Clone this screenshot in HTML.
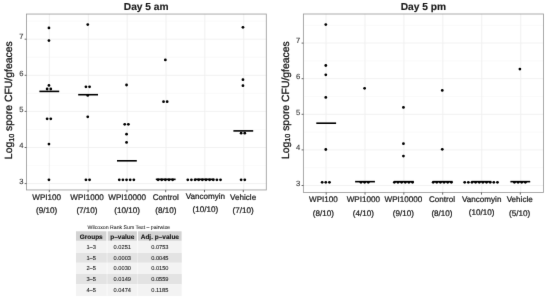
<!DOCTYPE html><html><head><meta charset="utf-8"><title>Day 5</title><style>html,body{margin:0;padding:0;background:#fff;}svg{display:block;}text{font-family:"Liberation Sans", sans-serif;text-rendering:geometricPrecision;}</style></head><body>
<svg width="550" height="302" viewBox="0 0 550 302">
<defs><filter id="soft" x="0" y="0" width="550" height="302" filterUnits="userSpaceOnUse" color-interpolation-filters="sRGB"><feConvolveMatrix order="3" kernelMatrix="0 1 0 1 12 1 0 1 0" divisor="16" edgeMode="duplicate" preserveAlpha="true"/></filter></defs><g filter="url(#soft)">
<rect width="550" height="302" fill="#fff"/>
<line x1="26.45" x2="266.3" y1="165.55" y2="165.55" stroke="#f6f6f6" stroke-width="0.6"/><line x1="26.45" x2="266.3" y1="129.45" y2="129.45" stroke="#f6f6f6" stroke-width="0.6"/><line x1="26.45" x2="266.3" y1="93.35" y2="93.35" stroke="#f6f6f6" stroke-width="0.6"/><line x1="26.45" x2="266.3" y1="57.25" y2="57.25" stroke="#f6f6f6" stroke-width="0.6"/><line x1="26.45" x2="266.3" y1="21.15" y2="21.15" stroke="#f6f6f6" stroke-width="0.6"/><line x1="26.45" x2="266.3" y1="183.60" y2="183.60" stroke="#f0f0f0" stroke-width="0.9"/><line x1="26.45" x2="266.3" y1="147.50" y2="147.50" stroke="#f0f0f0" stroke-width="0.9"/><line x1="26.45" x2="266.3" y1="111.40" y2="111.40" stroke="#f0f0f0" stroke-width="0.9"/><line x1="26.45" x2="266.3" y1="75.30" y2="75.30" stroke="#f0f0f0" stroke-width="0.9"/><line x1="26.45" x2="266.3" y1="39.20" y2="39.20" stroke="#f0f0f0" stroke-width="0.9"/><line x1="49.40" x2="49.40" y1="14.05" y2="189.95" stroke="#eeeeee" stroke-width="0.9"/><line x1="88.27" x2="88.27" y1="14.05" y2="189.95" stroke="#eeeeee" stroke-width="0.9"/><line x1="127.14" x2="127.14" y1="14.05" y2="189.95" stroke="#eeeeee" stroke-width="0.9"/><line x1="166.01" x2="166.01" y1="14.05" y2="189.95" stroke="#eeeeee" stroke-width="0.9"/><line x1="204.88" x2="204.88" y1="14.05" y2="189.95" stroke="#eeeeee" stroke-width="0.9"/><line x1="243.75" x2="243.75" y1="14.05" y2="189.95" stroke="#eeeeee" stroke-width="0.9"/>
<rect x="26.45" y="14.05" width="239.85" height="175.90" fill="none" stroke="#9c9c9c" stroke-width="0.85"/>
<line x1="49.30" x2="49.30" y1="189.95" y2="192.15" stroke="#444" stroke-width="0.8"/><line x1="88.10" x2="88.10" y1="189.95" y2="192.15" stroke="#444" stroke-width="0.8"/><line x1="126.90" x2="126.90" y1="189.95" y2="192.15" stroke="#444" stroke-width="0.8"/><line x1="165.70" x2="165.70" y1="189.95" y2="192.15" stroke="#444" stroke-width="0.8"/><line x1="204.50" x2="204.50" y1="189.95" y2="192.15" stroke="#444" stroke-width="0.8"/><line x1="243.30" x2="243.30" y1="189.95" y2="192.15" stroke="#444" stroke-width="0.8"/><line x1="24.65" x2="26.45" y1="183.60" y2="183.60" stroke="#444" stroke-width="0.8"/><text x="23.4" y="183.80" font-size="7.6" fill="#383838" stroke="#383838" stroke-width="0.12" text-anchor="end">3</text><line x1="24.65" x2="26.45" y1="147.50" y2="147.50" stroke="#444" stroke-width="0.8"/><text x="23.4" y="147.70" font-size="7.6" fill="#383838" stroke="#383838" stroke-width="0.12" text-anchor="end">4</text><line x1="24.65" x2="26.45" y1="111.40" y2="111.40" stroke="#444" stroke-width="0.8"/><text x="23.4" y="111.60" font-size="7.6" fill="#383838" stroke="#383838" stroke-width="0.12" text-anchor="end">5</text><line x1="24.65" x2="26.45" y1="75.30" y2="75.30" stroke="#444" stroke-width="0.8"/><text x="23.4" y="75.50" font-size="7.6" fill="#383838" stroke="#383838" stroke-width="0.12" text-anchor="end">6</text><line x1="24.65" x2="26.45" y1="39.20" y2="39.20" stroke="#444" stroke-width="0.8"/><text x="23.4" y="39.40" font-size="7.6" fill="#383838" stroke="#383838" stroke-width="0.12" text-anchor="end">7</text>
<text x="146.2" y="9.5" font-size="10.2" font-weight="bold" fill="#1a1a1a" stroke="#1a1a1a" stroke-width="0.15" text-anchor="middle">Day 5 am</text>
<text transform="translate(12.2,100.25) rotate(-90)" font-size="10.4" fill="#111" stroke="#111" stroke-width="0.28" text-anchor="middle">Log<tspan font-size="7.2" dy="1.5">10</tspan><tspan dy="-1.5"> spore CFU/gfeaces</tspan></text>
<text x="46.7" y="199.50" font-size="8.1" fill="#1c1c1c" stroke="#1c1c1c" stroke-width="0.24" text-anchor="middle">WPI100</text>
<text x="46.7" y="212.50" font-size="8.1" fill="#1c1c1c" stroke="#1c1c1c" stroke-width="0.24" text-anchor="middle">(9/10)</text>
<text x="87.0" y="199.50" font-size="8.1" fill="#1c1c1c" stroke="#1c1c1c" stroke-width="0.24" text-anchor="middle">WPI1000</text>
<text x="87.0" y="212.50" font-size="8.1" fill="#1c1c1c" stroke="#1c1c1c" stroke-width="0.24" text-anchor="middle">(7/10)</text>
<text x="127.2" y="199.50" font-size="8.1" fill="#1c1c1c" stroke="#1c1c1c" stroke-width="0.24" text-anchor="middle">WPI10000</text>
<text x="127.2" y="212.50" font-size="8.1" fill="#1c1c1c" stroke="#1c1c1c" stroke-width="0.24" text-anchor="middle">(10/10)</text>
<text x="165.8" y="199.50" font-size="8.1" fill="#1c1c1c" stroke="#1c1c1c" stroke-width="0.24" text-anchor="middle">Control</text>
<text x="165.8" y="212.50" font-size="8.1" fill="#1c1c1c" stroke="#1c1c1c" stroke-width="0.24" text-anchor="middle">(8/10)</text>
<text x="205.4" y="198.70" font-size="8.1" fill="#1c1c1c" stroke="#1c1c1c" stroke-width="0.24" text-anchor="middle">Vancomyin</text>
<text x="205.4" y="211.70" font-size="8.1" fill="#1c1c1c" stroke="#1c1c1c" stroke-width="0.24" text-anchor="middle">(10/10)</text>
<text x="243.1" y="199.50" font-size="8.1" fill="#1c1c1c" stroke="#1c1c1c" stroke-width="0.24" text-anchor="middle">Vehicle</text>
<text x="243.1" y="212.50" font-size="8.1" fill="#1c1c1c" stroke="#1c1c1c" stroke-width="0.24" text-anchor="middle">(7/10)</text>
<g fill="#000"><circle cx="48.95" cy="27.90" r="1.38"/><circle cx="48.95" cy="40.60" r="1.38"/><circle cx="48.95" cy="85.40" r="1.38"/><circle cx="47.13" cy="89.00" r="1.38"/><circle cx="50.77" cy="89.00" r="1.38"/><circle cx="47.13" cy="118.80" r="1.38"/><circle cx="50.77" cy="118.80" r="1.38"/><circle cx="48.95" cy="144.10" r="1.38"/><circle cx="48.95" cy="179.85" r="1.38"/><circle cx="87.75" cy="24.60" r="1.38"/><circle cx="85.93" cy="86.80" r="1.38"/><circle cx="89.57" cy="86.80" r="1.38"/><circle cx="87.75" cy="95.40" r="1.38"/><circle cx="87.75" cy="116.80" r="1.38"/><circle cx="85.93" cy="179.85" r="1.38"/><circle cx="89.57" cy="179.85" r="1.38"/><circle cx="126.55" cy="85.00" r="1.38"/><circle cx="124.73" cy="124.30" r="1.38"/><circle cx="128.37" cy="124.30" r="1.38"/><circle cx="126.55" cy="134.20" r="1.38"/><circle cx="126.55" cy="142.40" r="1.38"/><circle cx="119.27" cy="179.85" r="1.38"/><circle cx="122.91" cy="179.85" r="1.38"/><circle cx="126.55" cy="179.85" r="1.38"/><circle cx="130.19" cy="179.85" r="1.38"/><circle cx="133.83" cy="179.85" r="1.38"/><circle cx="165.35" cy="59.90" r="1.38"/><circle cx="163.53" cy="101.70" r="1.38"/><circle cx="167.17" cy="101.70" r="1.38"/><circle cx="158.07" cy="179.85" r="1.38"/><circle cx="161.71" cy="179.85" r="1.38"/><circle cx="165.35" cy="179.85" r="1.38"/><circle cx="168.99" cy="179.85" r="1.38"/><circle cx="172.63" cy="179.85" r="1.38"/><circle cx="187.77" cy="179.85" r="1.38"/><circle cx="191.41" cy="179.85" r="1.38"/><circle cx="195.05" cy="179.85" r="1.38"/><circle cx="198.69" cy="179.85" r="1.38"/><circle cx="202.33" cy="179.85" r="1.38"/><circle cx="205.97" cy="179.85" r="1.38"/><circle cx="209.61" cy="179.85" r="1.38"/><circle cx="213.25" cy="179.85" r="1.38"/><circle cx="216.89" cy="179.85" r="1.38"/><circle cx="220.53" cy="179.85" r="1.38"/><circle cx="242.95" cy="27.30" r="1.38"/><circle cx="242.95" cy="79.70" r="1.38"/><circle cx="242.95" cy="85.70" r="1.38"/><circle cx="241.13" cy="133.20" r="1.38"/><circle cx="244.77" cy="133.20" r="1.38"/><circle cx="241.13" cy="179.85" r="1.38"/><circle cx="244.77" cy="179.85" r="1.38"/></g>
<line x1="39.40" x2="59.20" y1="91.40" y2="91.40" stroke="#000" stroke-width="1.6"/><line x1="78.20" x2="98.00" y1="94.70" y2="94.70" stroke="#000" stroke-width="1.6"/><line x1="117.00" x2="136.80" y1="160.80" y2="160.80" stroke="#000" stroke-width="1.6"/><line x1="155.80" x2="175.60" y1="179.35" y2="179.35" stroke="#000" stroke-width="1.6"/><line x1="194.60" x2="214.40" y1="179.35" y2="179.35" stroke="#000" stroke-width="1.6"/><line x1="233.40" x2="253.20" y1="130.90" y2="130.90" stroke="#000" stroke-width="1.6"/>
<line x1="303.4" x2="543.5" y1="167.70" y2="167.70" stroke="#f6f6f6" stroke-width="0.6"/><line x1="303.4" x2="543.5" y1="132.10" y2="132.10" stroke="#f6f6f6" stroke-width="0.6"/><line x1="303.4" x2="543.5" y1="96.50" y2="96.50" stroke="#f6f6f6" stroke-width="0.6"/><line x1="303.4" x2="543.5" y1="60.90" y2="60.90" stroke="#f6f6f6" stroke-width="0.6"/><line x1="303.4" x2="543.5" y1="25.30" y2="25.30" stroke="#f6f6f6" stroke-width="0.6"/><line x1="303.4" x2="543.5" y1="185.50" y2="185.50" stroke="#f0f0f0" stroke-width="0.9"/><line x1="303.4" x2="543.5" y1="149.90" y2="149.90" stroke="#f0f0f0" stroke-width="0.9"/><line x1="303.4" x2="543.5" y1="114.30" y2="114.30" stroke="#f0f0f0" stroke-width="0.9"/><line x1="303.4" x2="543.5" y1="78.70" y2="78.70" stroke="#f0f0f0" stroke-width="0.9"/><line x1="303.4" x2="543.5" y1="43.10" y2="43.10" stroke="#f0f0f0" stroke-width="0.9"/><line x1="326.00" x2="326.00" y1="14.0" y2="192.45" stroke="#eeeeee" stroke-width="0.9"/><line x1="364.95" x2="364.95" y1="14.0" y2="192.45" stroke="#eeeeee" stroke-width="0.9"/><line x1="403.90" x2="403.90" y1="14.0" y2="192.45" stroke="#eeeeee" stroke-width="0.9"/><line x1="442.85" x2="442.85" y1="14.0" y2="192.45" stroke="#eeeeee" stroke-width="0.9"/><line x1="481.80" x2="481.80" y1="14.0" y2="192.45" stroke="#eeeeee" stroke-width="0.9"/><line x1="520.75" x2="520.75" y1="14.0" y2="192.45" stroke="#eeeeee" stroke-width="0.9"/>
<rect x="303.4" y="14.0" width="240.10" height="178.45" fill="none" stroke="#9c9c9c" stroke-width="0.85"/>
<line x1="326.20" x2="326.20" y1="192.45" y2="194.65" stroke="#444" stroke-width="0.8"/><line x1="365.02" x2="365.02" y1="192.45" y2="194.65" stroke="#444" stroke-width="0.8"/><line x1="403.84" x2="403.84" y1="192.45" y2="194.65" stroke="#444" stroke-width="0.8"/><line x1="442.66" x2="442.66" y1="192.45" y2="194.65" stroke="#444" stroke-width="0.8"/><line x1="481.48" x2="481.48" y1="192.45" y2="194.65" stroke="#444" stroke-width="0.8"/><line x1="520.30" x2="520.30" y1="192.45" y2="194.65" stroke="#444" stroke-width="0.8"/><line x1="301.60" x2="303.4" y1="185.50" y2="185.50" stroke="#444" stroke-width="0.8"/><text x="300.3" y="185.70" font-size="7.6" fill="#383838" stroke="#383838" stroke-width="0.12" text-anchor="end">3</text><line x1="301.60" x2="303.4" y1="149.90" y2="149.90" stroke="#444" stroke-width="0.8"/><text x="300.3" y="150.10" font-size="7.6" fill="#383838" stroke="#383838" stroke-width="0.12" text-anchor="end">4</text><line x1="301.60" x2="303.4" y1="114.30" y2="114.30" stroke="#444" stroke-width="0.8"/><text x="300.3" y="114.50" font-size="7.6" fill="#383838" stroke="#383838" stroke-width="0.12" text-anchor="end">5</text><line x1="301.60" x2="303.4" y1="78.70" y2="78.70" stroke="#444" stroke-width="0.8"/><text x="300.3" y="78.90" font-size="7.6" fill="#383838" stroke="#383838" stroke-width="0.12" text-anchor="end">6</text><line x1="301.60" x2="303.4" y1="43.10" y2="43.10" stroke="#444" stroke-width="0.8"/><text x="300.3" y="43.30" font-size="7.6" fill="#383838" stroke="#383838" stroke-width="0.12" text-anchor="end">7</text>
<text x="423.4" y="9.5" font-size="10.2" font-weight="bold" fill="#1a1a1a" stroke="#1a1a1a" stroke-width="0.15" text-anchor="middle">Day 5 pm</text>
<text transform="translate(288.55,100.2) rotate(-90)" font-size="10.4" fill="#111" stroke="#111" stroke-width="0.28" text-anchor="middle">Log<tspan font-size="7.2" dy="1.5">10</tspan><tspan dy="-1.5"> spore CFU/gfeaces</tspan></text>
<text x="323.4" y="202.45" font-size="8.1" fill="#1c1c1c" stroke="#1c1c1c" stroke-width="0.24" text-anchor="middle">WPI100</text>
<text x="323.4" y="215.55" font-size="8.1" fill="#1c1c1c" stroke="#1c1c1c" stroke-width="0.24" text-anchor="middle">(8/10)</text>
<text x="363.3" y="202.45" font-size="8.1" fill="#1c1c1c" stroke="#1c1c1c" stroke-width="0.24" text-anchor="middle">WPI1000</text>
<text x="363.3" y="215.55" font-size="8.1" fill="#1c1c1c" stroke="#1c1c1c" stroke-width="0.24" text-anchor="middle">(4/10)</text>
<text x="403.4" y="202.45" font-size="8.1" fill="#1c1c1c" stroke="#1c1c1c" stroke-width="0.24" text-anchor="middle">WPI10000</text>
<text x="403.4" y="215.55" font-size="8.1" fill="#1c1c1c" stroke="#1c1c1c" stroke-width="0.24" text-anchor="middle">(9/10)</text>
<text x="442.0" y="202.45" font-size="8.1" fill="#1c1c1c" stroke="#1c1c1c" stroke-width="0.24" text-anchor="middle">Control</text>
<text x="442.0" y="215.55" font-size="8.1" fill="#1c1c1c" stroke="#1c1c1c" stroke-width="0.24" text-anchor="middle">(8/10)</text>
<text x="481.7" y="201.65" font-size="8.1" fill="#1c1c1c" stroke="#1c1c1c" stroke-width="0.24" text-anchor="middle">Vancomyin</text>
<text x="481.7" y="214.75" font-size="8.1" fill="#1c1c1c" stroke="#1c1c1c" stroke-width="0.24" text-anchor="middle">(10/10)</text>
<text x="519.7" y="202.45" font-size="8.1" fill="#1c1c1c" stroke="#1c1c1c" stroke-width="0.24" text-anchor="middle">Vehicle</text>
<text x="519.7" y="215.55" font-size="8.1" fill="#1c1c1c" stroke="#1c1c1c" stroke-width="0.24" text-anchor="middle">(5/10)</text>
<g fill="#000"><circle cx="325.80" cy="24.60" r="1.38"/><circle cx="325.80" cy="65.50" r="1.38"/><circle cx="325.80" cy="74.80" r="1.38"/><circle cx="325.80" cy="97.40" r="1.38"/><circle cx="325.80" cy="149.50" r="1.38"/><circle cx="322.16" cy="182.35" r="1.38"/><circle cx="325.80" cy="182.35" r="1.38"/><circle cx="329.44" cy="182.35" r="1.38"/><circle cx="364.62" cy="88.30" r="1.38"/><circle cx="360.98" cy="182.35" r="1.38"/><circle cx="364.62" cy="182.35" r="1.38"/><circle cx="368.26" cy="182.35" r="1.38"/><circle cx="403.44" cy="107.40" r="1.38"/><circle cx="403.44" cy="143.70" r="1.38"/><circle cx="403.44" cy="156.10" r="1.38"/><circle cx="394.34" cy="182.35" r="1.38"/><circle cx="397.98" cy="182.35" r="1.38"/><circle cx="401.62" cy="182.35" r="1.38"/><circle cx="405.26" cy="182.35" r="1.38"/><circle cx="408.90" cy="182.35" r="1.38"/><circle cx="412.54" cy="182.35" r="1.38"/><circle cx="442.26" cy="90.40" r="1.38"/><circle cx="442.26" cy="149.30" r="1.38"/><circle cx="433.16" cy="182.35" r="1.38"/><circle cx="436.80" cy="182.35" r="1.38"/><circle cx="440.44" cy="182.35" r="1.38"/><circle cx="444.08" cy="182.35" r="1.38"/><circle cx="447.72" cy="182.35" r="1.38"/><circle cx="451.36" cy="182.35" r="1.38"/><circle cx="464.70" cy="182.35" r="1.38"/><circle cx="468.34" cy="182.35" r="1.38"/><circle cx="471.98" cy="182.35" r="1.38"/><circle cx="475.62" cy="182.35" r="1.38"/><circle cx="479.26" cy="182.35" r="1.38"/><circle cx="482.90" cy="182.35" r="1.38"/><circle cx="486.54" cy="182.35" r="1.38"/><circle cx="490.18" cy="182.35" r="1.38"/><circle cx="493.82" cy="182.35" r="1.38"/><circle cx="497.46" cy="182.35" r="1.38"/><circle cx="519.90" cy="69.10" r="1.38"/><circle cx="514.44" cy="182.35" r="1.38"/><circle cx="518.08" cy="182.35" r="1.38"/><circle cx="521.72" cy="182.35" r="1.38"/><circle cx="525.36" cy="182.35" r="1.38"/></g>
<line x1="316.30" x2="336.10" y1="123.20" y2="123.20" stroke="#000" stroke-width="1.6"/><line x1="355.12" x2="374.92" y1="181.65" y2="181.65" stroke="#000" stroke-width="1.6"/><line x1="393.94" x2="413.74" y1="181.65" y2="181.65" stroke="#000" stroke-width="1.6"/><line x1="432.76" x2="452.56" y1="181.65" y2="181.65" stroke="#000" stroke-width="1.6"/><line x1="471.58" x2="491.38" y1="181.65" y2="181.65" stroke="#000" stroke-width="1.6"/><line x1="510.40" x2="530.20" y1="181.65" y2="181.65" stroke="#000" stroke-width="1.6"/>
<text x="128.7" y="229.1" font-size="5.2" fill="#151515" stroke="#151515" stroke-width="0.05" text-anchor="middle">Wilcoxon Rank Sum Test – pairwise</text><rect x="76.0" y="231.3" width="30.40" height="9.60" fill="#d3d3d3"/><text x="91.20" y="238.60" font-size="6.5" font-weight="bold" fill="#111" stroke="#111" stroke-width="0.1" text-anchor="middle">Groups</text><rect x="107.7" y="231.3" width="29.20" height="9.60" fill="#d3d3d3"/><text x="122.30" y="238.60" font-size="6.5" font-weight="bold" fill="#111" stroke="#111" stroke-width="0.1" text-anchor="middle">p–value</text><rect x="138.1" y="231.3" width="43.50" height="9.60" fill="#d3d3d3"/><text x="159.85" y="238.60" font-size="6.5" font-weight="bold" fill="#111" stroke="#111" stroke-width="0.1" text-anchor="middle">Adj. p–value</text><rect x="76.0" y="240.90" width="105.60" height="12.10" fill="#f8f8f8"/><rect x="76.0" y="240.90" width="30.40" height="12.10" fill="#f3f3f3"/><text x="91.20" y="249.15" font-size="5.7" fill="#151515" stroke="#151515" stroke-width="0.07" text-anchor="middle">1–3</text><rect x="107.7" y="240.90" width="29.20" height="12.10" fill="#f3f3f3"/><text x="122.30" y="249.15" font-size="5.7" fill="#151515" stroke="#151515" stroke-width="0.07" text-anchor="middle">0.0251</text><rect x="138.1" y="240.90" width="43.50" height="12.10" fill="#f3f3f3"/><text x="159.85" y="249.15" font-size="5.7" fill="#151515" stroke="#151515" stroke-width="0.07" text-anchor="middle">0.0753</text><rect x="76.0" y="253.00" width="105.60" height="9.80" fill="#ececec"/><rect x="76.0" y="253.00" width="30.40" height="9.80" fill="#e3e3e3"/><text x="91.20" y="259.80" font-size="5.7" fill="#151515" stroke="#151515" stroke-width="0.07" text-anchor="middle">1–5</text><rect x="107.7" y="253.00" width="29.20" height="9.80" fill="#e3e3e3"/><text x="122.30" y="259.80" font-size="5.7" fill="#151515" stroke="#151515" stroke-width="0.07" text-anchor="middle">0.0003</text><rect x="138.1" y="253.00" width="43.50" height="9.80" fill="#e3e3e3"/><text x="159.85" y="259.80" font-size="5.7" fill="#151515" stroke="#151515" stroke-width="0.07" text-anchor="middle">0.0045</text><rect x="76.0" y="262.80" width="105.60" height="11.20" fill="#f8f8f8"/><rect x="76.0" y="262.80" width="30.40" height="11.20" fill="#f3f3f3"/><text x="91.20" y="270.45" font-size="5.7" fill="#151515" stroke="#151515" stroke-width="0.07" text-anchor="middle">2–5</text><rect x="107.7" y="262.80" width="29.20" height="11.20" fill="#f3f3f3"/><text x="122.30" y="270.45" font-size="5.7" fill="#151515" stroke="#151515" stroke-width="0.07" text-anchor="middle">0.0030</text><rect x="138.1" y="262.80" width="43.50" height="11.20" fill="#f3f3f3"/><text x="159.85" y="270.45" font-size="5.7" fill="#151515" stroke="#151515" stroke-width="0.07" text-anchor="middle">0.0150</text><rect x="76.0" y="274.00" width="105.60" height="10.30" fill="#ececec"/><rect x="76.0" y="274.00" width="30.40" height="10.30" fill="#e3e3e3"/><text x="91.20" y="281.10" font-size="5.7" fill="#151515" stroke="#151515" stroke-width="0.07" text-anchor="middle">3–5</text><rect x="107.7" y="274.00" width="29.20" height="10.30" fill="#e3e3e3"/><text x="122.30" y="281.10" font-size="5.7" fill="#151515" stroke="#151515" stroke-width="0.07" text-anchor="middle">0.0149</text><rect x="138.1" y="274.00" width="43.50" height="10.30" fill="#e3e3e3"/><text x="159.85" y="281.10" font-size="5.7" fill="#151515" stroke="#151515" stroke-width="0.07" text-anchor="middle">0.0559</text><rect x="76.0" y="284.30" width="105.60" height="11.70" fill="#f8f8f8"/><rect x="76.0" y="284.30" width="30.40" height="11.70" fill="#f3f3f3"/><text x="91.20" y="291.80" font-size="5.7" fill="#151515" stroke="#151515" stroke-width="0.07" text-anchor="middle">4–5</text><rect x="107.7" y="284.30" width="29.20" height="11.70" fill="#f3f3f3"/><text x="122.30" y="291.80" font-size="5.7" fill="#151515" stroke="#151515" stroke-width="0.07" text-anchor="middle">0.0474</text><rect x="138.1" y="284.30" width="43.50" height="11.70" fill="#f3f3f3"/><text x="159.85" y="291.80" font-size="5.7" fill="#151515" stroke="#151515" stroke-width="0.07" text-anchor="middle">0.1185</text>
</g></svg></body></html>
